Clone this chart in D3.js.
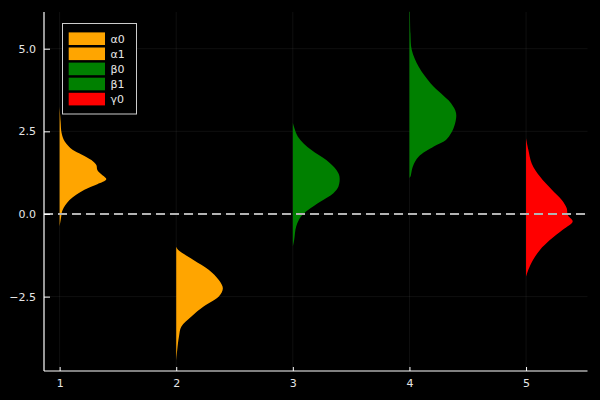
<!DOCTYPE html>
<html><head><meta charset="utf-8">
<script src="https://cdn.jsdelivr.net/npm/d3@7"></script>
<style>body{margin:0;background:#000}svg{display:block}</style>
</head><body><svg id="c" width="600" height="400"></svg>
<script>
// ---- data ----
const seriesNames = ["α0", "α1", "β0", "β1", "γ0"];
const seriesPos = [1, 2, 3, 4, 5];
const seriesColors = ["#FFA500", "#FFA500", "#008000", "#008000", "#FF0000"];
const xTicks = [1, 2, 3, 4, 5];
const yTicks = [-2.5, 0, 2.5, 5.0];
const yTickLabels = ["−2.5", "0.0", "2.5", "5.0"];
const refLine = 0;
// density profiles: y values and (unnormalised) density
const alpha0Y = [-0.38, -0.1, 0.12, 0.42, 0.73, 0.9, 1.05, 1.2, 1.33, 1.48, 1.63, 1.8, 1.94, 2.2, 2.45, 2.8, 3.25];
const alpha0D = [0, 1.5, 3, 10, 25, 38, 47, 42, 38, 37, 32, 22, 13, 5, 2, 1, 0];
const alpha1Y = [-4.45, -4.11, -3.71, -3.41, -3.1, -2.8, -2.5, -2.25, -2.0, -1.69, -1.39, -1.09, -0.99];
const alpha1D = [0, 1, 2.7, 5, 15, 27, 42, 46, 42, 32, 17, 2, 0];
const beta0Y = [-0.99, -0.79, -0.38, -0.08, 0.12, 0.37, 0.63, 0.83, 1.13, 1.33, 1.63, 1.94, 2.34, 2.76];
const beta0D = [0, 1.3, 3.3, 8, 15, 27, 40, 45, 46, 43, 33, 18, 5, 0];
const beta1Y = [1.09, 1.13, 1.43, 1.73, 2.04, 2.24, 2.44, 2.74, 3.05, 3.35, 3.65, 3.95, 4.46, 4.96, 5.47, 6.12];
const beta1D = [0, 1, 3.3, 9, 24, 36, 41, 45, 46, 41, 31, 21, 9, 2.3, 1, 0.5];
const gamma0Y = [-1.9, -1.69, -1.39, -1.09, -0.79, -0.48, -0.23, -0.03, 0.17, 0.42, 0.73, 1.13, 1.53, 1.94, 2.29];
const gamma0D = [0, 2.3, 7, 14, 24, 37, 47, 42, 41, 36, 26, 14, 5.7, 2.3, 0];
const profilesY = [alpha0Y, alpha1Y, beta0Y, beta1Y, gamma0Y];
const profilesD = [alpha0D, alpha1D, beta0D, beta1D, gamma0D];

// ---- layout ----
const svg = d3.select("#c");
const L = 44, R = 587.5, T = 12, B = 371;
const x = d3.scaleLinear().domain([0.866, 5.527]).range([L, R]);
const y = d3.scaleLinear().domain([-4.75, 6.11]).range([B, T]);
const halfWidth = 0.4;

svg.append("rect").attr("width", 600).attr("height", 400).attr("fill", "#000");

const g = svg.append("g");
// grid
g.selectAll(".gx").data(xTicks).join("line")
  .attr("x1", d => x(d)).attr("x2", d => x(d)).attr("y1", T).attr("y2", B)
  .attr("stroke", "#fff").attr("stroke-opacity", 0.1).attr("stroke-width", 0.6);
g.selectAll(".gy").data(yTicks).join("line")
  .attr("y1", d => y(d)).attr("y2", d => y(d)).attr("x1", L).attr("x2", R)
  .attr("stroke", "#fff").attr("stroke-opacity", 0.1).attr("stroke-width", 0.6);

// violins (half, right side)
seriesNames.forEach((name, i) => {
  const ys = profilesY[i], ds = profilesD[i];
  const maxD = d3.max(ds);
  const pts = ys.map((v, k) => ({v, d: ds[k] / maxD}));
  const w = d3.scaleLinear().domain([0, 1]).range([0, x(seriesPos[i] + halfWidth) - x(seriesPos[i])]);
  const area = d3.area()
    .y(d => y(d.v))
    .x0(x(seriesPos[i]))
    .x1(d => Math.max(x(seriesPos[i]), x(seriesPos[i]) + w(d.d)))
    .curve(d3.curveCatmullRom.alpha(0.5));
  g.append("path").datum(pts).attr("d", area).attr("fill", seriesColors[i]);
});

// reference line
g.append("line").attr("x1", L).attr("x2", R).attr("y1", y(refLine)).attr("y2", y(refLine))
  .attr("stroke", "#b3b3b3").attr("stroke-width", 1.8).attr("stroke-dasharray", "9,5");

// axes
const fontFam = "'DejaVu Sans', sans-serif";
const xAxis = d3.axisBottom(x).tickValues(xTicks).tickFormat(d3.format("d")).tickSizeInner(-4).tickSizeOuter(0).tickPadding(8);
const gx = svg.append("g").attr("transform", `translate(0,${B})`).call(xAxis);
const yAxis = d3.axisLeft(y).tickValues(yTicks).tickFormat((d, i) => yTickLabels[i]).tickSizeInner(-6).tickSizeOuter(0).tickPadding(8);
const gy = svg.append("g").attr("transform", `translate(${L},0)`).call(yAxis);
[gx, gy].forEach(a => {
  a.select(".domain").attr("stroke", "#fff").attr("stroke-width", 1.2);
  a.selectAll(".tick line").attr("stroke", "#fff").attr("stroke-width", 1);
  a.selectAll(".tick text").attr("fill", "#e6e6e6").attr("font-size", 11).attr("font-family", fontFam);
});
gx.select(".domain").attr("d", `M${L},0H${R}`);
gy.select(".domain").attr("d", `M0,${T}V${B}`);

// legend
const lg = svg.append("g");
lg.append("rect").attr("x", 62.5).attr("y", 23.5).attr("width", 74).attr("height", 90.5)
  .attr("fill", "#000").attr("stroke", "#ccc").attr("stroke-width", 1);
seriesNames.forEach((name, i) => {
  const cy = 38.7 + i * 15.1;
  lg.append("rect").attr("x", 68.7).attr("y", cy - 6.3).attr("width", 36.3).attr("height", 12.6)
    .attr("fill", seriesColors[i]);
  lg.append("text").attr("x", 110.5).attr("y", cy + 4).text(name)
    .attr("fill", "#e6e6e6").attr("font-size", 11).attr("font-family", fontFam);
});
</script></body></html>
